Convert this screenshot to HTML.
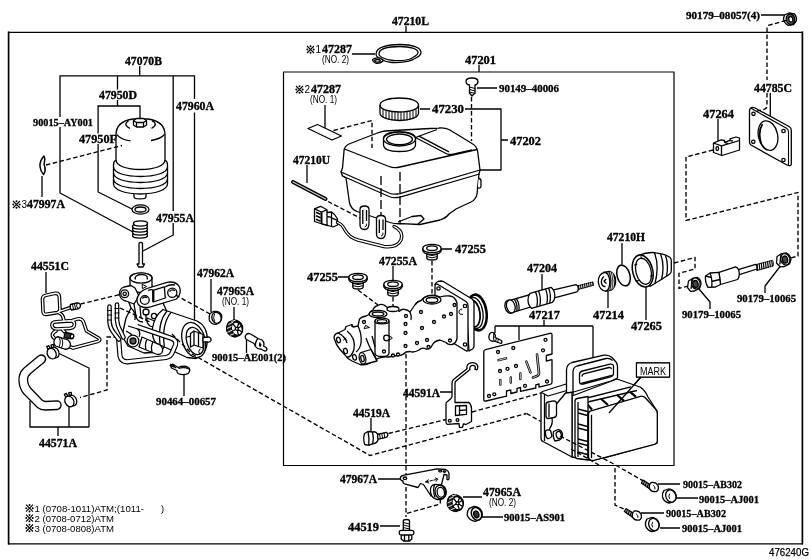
<!DOCTYPE html>
<html><head><meta charset="utf-8"><title>47210L brake master cylinder diagram</title>
<style>
html,body{margin:0;padding:0;background:#fff;}
body{width:811px;height:560px;overflow:hidden;font-family:"Liberation Sans",sans-serif;}
svg{display:block;filter:grayscale(1);}
text{fill:#000;}
.b{font-family:"Liberation Serif",serif;font-weight:bold;font-size:12.5px;stroke:#000;stroke-width:0.35px;}
.s{font-family:"Liberation Serif",serif;font-weight:bold;font-size:10.5px;stroke:#000;stroke-width:0.3px;}
.n{font-family:"Liberation Sans",sans-serif;font-size:10px;}
.l{fill:none;stroke:#000;stroke-width:1.3;stroke-linecap:butt;stroke-linejoin:round;}
.t{fill:none;stroke:#000;stroke-width:1.0;stroke-linejoin:round;stroke-linecap:round;}
.d{fill:none;stroke:#000;stroke-width:1.35;stroke-dasharray:4.5 2.5;}
.w{fill:#fff;stroke:#000;stroke-width:1.3;stroke-linejoin:round;}
.k{fill:#000;stroke:none;}
</style></head><body>
<svg width="811" height="560" viewBox="0 0 811 560">
<defs>
<symbol id="kome" overflow="visible"><path d="M1,1 L8,8 M8,1 L1,8" stroke="#000" stroke-width="1.1" fill="none"/><circle cx="4.5" cy="1.3" r="1"/><circle cx="4.5" cy="7.7" r="1"/><circle cx="1.3" cy="4.5" r="1"/><circle cx="7.7" cy="4.5" r="1"/></symbol>
</defs>
<rect x="0" y="0" width="811" height="560" fill="#fff"/>
<!-- 00_frames.svg -->
<g class="l">
<!-- outer frame -->
<path d="M8.6,32.45 H802.4 M8.6,543.75 H802.4" style="stroke-width:1.25;stroke-linecap:square"/><path d="M8.6,32.45 V543.75 M802.4,32.45 V543.75" style="stroke-width:1.7;stroke-linecap:square"/>
<!-- inner box -->
<rect x="283.5" y="72" width="390.5" height="393.5" style="stroke-width:1.2"/>
<!-- 47070B tree -->
<path d="M139.7,66 V75.8 M59.4,75.8 H195.1 M60,75.8 V117 M60,127 V193 L133,232 M117.5,75.8 V89.5 M173.2,75.8 V211 M173.2,223 V235 L143,251 M194.5,75.8 V99 M194.5,112.5 V321"/>
<path d="M117.5,100 V106 M97.5,106 H140.6 M98.1,106 V133.5 M98.1,144 V192 L132,209 M140,106 V118"/>
<!-- 47997A leader -->
<path d="M42,176 V197"/>
<!-- 44551C leader -->
<path d="M46,272 V293"/>
<!-- 47962A / 47965A / AE001 -->
<path d="M211,279 V312 M234,307 V321 M246.5,337.5 V353"/>
<!-- 90464 -->
<path d="M184,375 V396"/>
<!-- 44571A bracket -->
<path d="M58,353 L89,368 V427 M30,401 V427 H89 M69,406 V427 M58,427 V436"/>
<!-- top labels -->
<path d="M406,26 V32.5 M352,54 H375 M479,65 V72 M325,105 V128"/>
<path d="M420,109 H430 M465,109 H501 V170 H478 M501,140 H508 M477,88 H497"/>
<path d="M307,165 V183"/>
<path d="M441,249 H452 M393,266 V280 M338,277 H349"/>
<path d="M542,274 V292 M622,243 V265 M608,291 V308 M646,287 V320"/>
<path d="M544,320 V326 M495,326 H593 M495,326 V333 M519,326 V340 M593,326 V358"/>
<path d="M440,392 H455 M371,418 V431 M378,479 H401 M463,497 H482 M482,517 H503 M380,526 H400"/>
<path d="M718,119 V141 M770.3,93 V117 M761,15 H786"/>
<path d="M699,289 L710,302 V309 M782,264 L765,286 V293"/>
<path d="M658,484 H680 M676,498 H698 M641,513 H664 M660,528 H680"/>
<!-- MARK box -->
<rect x="636.5" y="363" width="33" height="14" fill="#fff"/>
<path d="M641,377 L609,413"/>
</g>

<!-- 10_accum.svg -->
<g class="w">
<!-- accumulator 47950D -->
<path d="M134,192 V197 C134,199.5 146,199.5 146,197 V192 Z"/>
<path d="M116,135 C116,126 122,120.5 133,119 H148 C159,120.5 165,126 165,135 V160 C167,161 167.5,163 167.5,165 V184 C167.5,190 155,194 140.5,194 C126,194 113.5,190 113.5,184 V165 C113.5,163 114,161 116,160 Z"/>
<path class="l" d="M116,160 C116,166 127,169.5 140.5,169.5 C154,169.5 165,166 165,160"/>
<path class="l" d="M113.5,167 C113.5,173 126,176.5 140.5,176.5 C155,176.5 167.5,173 167.5,167 M113.5,173 C113.5,179 126,182.5 140.5,182.5 C155,182.5 167.5,179 167.5,173 M113.5,179 C113.5,185 126,188.5 140.5,188.5 C155,188.5 167.5,185 167.5,179"/>
<path class="l" d="M128.5,121 C124.5,123 125,126.5 130,128.3 M152,120.8 C156.5,122.5 156.5,126 151.5,128.3 M117,134.5 C119,138 124,140 130.5,140.8 M151,140.5 C157.5,139.5 162,137.5 164.5,134.5"/>
<path d="M133.5,120.5 L136.5,118.5 H143.5 L146.5,120.5 V125 L143.5,127 H136.5 L133.5,125 Z"/>
<path class="l" d="M133.5,120.5 L136.5,122.5 H143.5 L146.5,120.5 M136.5,122.5 V127 M143.5,122.5 V127"/>
<!-- clip 47997A -->
<path d="M44,156 Q39.5,161 40,166.5 Q40.5,171.5 43.5,174.5 Q46,170.5 44.8,167 Q43.2,164.5 44.5,161.5 Q45.3,158.5 44,156 Z" style="stroke-width:1.5"/>
<!-- O-ring -->
<ellipse cx="140.5" cy="209.5" rx="8.5" ry="4.6"/>
<ellipse cx="140.5" cy="209.5" rx="5.5" ry="2.5"/>
<!-- spring -->
<ellipse cx="140" cy="235.5" rx="7.5" ry="2.6" style="stroke-width:1.4"/>
<ellipse cx="140" cy="232.5" rx="7.5" ry="2.6" style="stroke-width:1.4"/>
<ellipse cx="140" cy="229.5" rx="7.5" ry="2.6" style="stroke-width:1.4"/>
<ellipse cx="140" cy="226.5" rx="7.5" ry="2.6" style="stroke-width:1.4"/>
<ellipse cx="140.5" cy="223.5" rx="7" ry="2.6" style="stroke-width:1.4"/>
<!-- pin -->
<path d="M139,243.5 C139,242 142.5,242 142.5,243.5 V264 H144.5 L143,267 H138.5 L137,264 H139 Z"/>
</g>
<path class="d" d="M46,165 L122,145.5"/>

<!-- 20_tube_hose.svg -->
<g fill="none" stroke-linejoin="round" stroke-linecap="round">
<!-- tube 44551C: black pass then white core -->
<g stroke="#000" stroke-width="3.7">
<path id="tb1" d="M42.5,299.5 Q42.5,295.8 46,295.2 L55.5,293.3 Q59,293 59.3,296.5 L60,309 Q60,312 57,312.6 L46.5,314.3 Q43,314.6 43,311 Z"/>
<path id="tb2" d="M59.5,311.3 L70.5,307.6"/>
<path id="tb3" d="M59,312.8 Q62.5,314 63.5,318.5 L64,320.5"/>
<path id="tb4" d="M52,325.5 Q51.5,322.3 56,321.8 L70,320.8 Q74.5,320.8 74.5,324 Q74.5,327.8 70,328.3 L57,329 Q52.5,329 52,325.5 Z"/>
<path id="tb5" d="M56,331 Q51.5,333 52.5,336 Q53.5,338.5 57,339.5"/>
<path id="tb6" d="M62.5,329.5 L66.5,334"/>
<path id="tb7" d="M73,320.3 L78.5,318.8 Q82,318.5 83.5,322 L86.5,331 L98.5,338 Q101.5,340 97.5,341.5 L73,348 L69,346.3"/>
</g>
<g stroke="#fff" stroke-width="1.4">
<use href="#tb1"/><use href="#tb2"/><use href="#tb3"/><use href="#tb4"/><use href="#tb5"/><use href="#tb6"/><use href="#tb7"/>
</g>
</g>
<g class="w">
<!-- fitting 1 -->
<path d="M70.5,304.5 L77,302.8 Q80.5,303 80.5,305.5 Q80.5,308 77.8,308.8 L71.5,310 Q69.5,308 70.5,304.5 Z"/>
<path class="t" d="M72.5,304 L73.5,309.5 M74.5,303.5 L75.5,309.2 M77,303 Q75.5,306 77.8,308.8"/>
<!-- fitting 2 -->
<path d="M65,332.5 L71,333.5 Q74.5,335 73.5,337.5 Q72,339.5 69,338.5 L64,337.5 Z" style="fill:#333"/>
<ellipse cx="72" cy="336.3" rx="1.6" ry="2.2" transform="rotate(15 72 336.3)"/>
<!-- cylinder fitting -->
<path d="M58.5,336.8 L68,340 Q71.5,343 70,346.8 Q68,350 64.5,349 L55.5,346 Q53,343.5 54.5,339.5 Q56,336.5 58.5,336.8 Z"/>
<path class="t" d="M58.5,336.8 Q62,340.5 59,347 M61,337.8 Q64.5,341.5 61.5,348"/>
<!-- clip 1 -->
<ellipse cx="54.5" cy="352.59999999999997" rx="4.3" ry="5.6" transform="rotate(-28 54.5 352.59999999999997)"/>
<ellipse cx="51.699999999999996" cy="353.59999999999997" rx="4.3" ry="5.6" transform="rotate(-28 51.699999999999996 353.59999999999997)"/>
<path d="M47.8,349.0 L46.699999999999996,346.59999999999997 L48.699999999999996,345.59999999999997 L50.099999999999994,348.0 Z M51.5,347.4 L51.099999999999994,344.8 L53.5,344.5 L53.9,347.2 Z"/>
<!-- hose 44571A -->
<path d="M38.5,356 L23.5,368.5 Q18.5,373.5 19,381 Q19.5,389 24,394 L37.5,407.5 Q40.5,410 45,410 L57.5,409.5 Q61.5,408 61,404.5 Q60.5,401 57,400.8 L46,401.5 Q43.5,401.5 42,400 L30.5,388 Q27.5,384.5 27.5,380 Q27.5,376 30.5,373.5 L44.5,362 Q46.5,359.5 45,357 Q42.5,353.5 38.5,356 Z"/>
<!-- clip 2 -->
<ellipse cx="72.2" cy="400.4" rx="4.3" ry="5.6" transform="rotate(-28 72.2 400.4)"/>
<ellipse cx="69.4" cy="401.4" rx="4.3" ry="5.6" transform="rotate(-28 69.4 401.4)"/>
<path d="M65.5,396.8 L64.4,394.4 L66.4,393.4 L67.8,395.8 Z M69.2,395.2 L68.8,392.6 L71.2,392.3 L71.6,395 Z"/>
</g>
<path class="d" d="M80.5,304 L122,294"/>
<path class="d" d="M118,337 H107 V390 L80,397.5"/>

<!-- 30_pump.svg -->
<g class="w">
<!-- main body mass -->
<path d="M130,286 L152,286 L160,296 L167,312 L170,340 L160,352 L144,353 L128,346 L122,336 L126,318 L131,308 L128,300 Z"/>
<!-- top port -->
<path d="M130,278 C130,271.5 152,271.5 152,278 V287 C152,290.5 146,292.5 141,292.5 C136,292.5 130,290.5 130,287 Z"/>
<ellipse cx="141" cy="278" rx="11" ry="5.2"/>
<path class="l" d="M135.5,279.5 C134,276 138,274.5 141.5,274.5 C146,274.5 148.5,276.5 147,279.5"/>
<!-- left port -->
<path d="M131,285.5 L124,287 Q119,289 119.5,294.5 Q120.5,300 126,301 L134,304 L139,296 L135,288 Z"/>
<circle cx="124.7" cy="293.8" r="3.9"/><circle cx="124.7" cy="293.8" r="1.7"/>
<!-- small details on body -->
<path class="l" d="M134,304 L136,316 Q137,322 143,322 M140,307 L141,318 M146,309 V320 L152,323 M131,308 Q136,312 135,320"/>
<circle cx="146" cy="312" r="3"/><circle cx="154" cy="316" r="2.6"/>
<path d="M147,318 L160,323 Q164,326 162,330 L150,326 Q146,323 147,318 Z"/>
<!-- bracket plate -->
<path d="M139,294.5 Q142,290 147,288.5 L167,282.3 Q176,280.8 179.5,287 Q182,293.5 176.5,299 L150.5,306.8 Q142,308.8 138.3,304.5 Q135.3,299.5 139,294.5 Z"/>
<path d="M152.8,290.3 L164.3,286.8 L165.3,298 L153.3,302 Z"/>
<path class="l" d="M153.3,290.5 V302" style="stroke-width:2.2"/>
<path class="l" d="M148,290.5 Q151,289 153,290 M165,287 Q170,284 175,285"/>
<circle cx="144.8" cy="300" r="4.4"/><circle cx="172.3" cy="292.8" r="4.6"/>
<path class="l" d="M142.3,298.5 Q144.5,296 147.3,297.8 M169.5,291.5 Q172,288.8 175,290.8"/>
<path class="t" d="M142.5,284.5 L146.5,286.5 L142.8,288.5 Z"/>
<!-- motor -->
<path d="M163,309.5 L197,321 Q207.5,326 207.5,341 Q206.5,355 196,358.5 L187,357.5 L156,343 Q151.5,338 152.5,328 Q154.5,316 163,309.5 Z"/>
<path class="l" d="M167,311 Q157.5,322 160,344.5 M171,312.3 Q161.5,324 164.3,346.5"/>
<ellipse cx="193.7" cy="340" rx="11.3" ry="18" transform="rotate(-17 193.7 340)"/>
<ellipse cx="195" cy="341" rx="8.3" ry="14" transform="rotate(-17 195 341)"/>
<path d="M194,331 L203,334.5 V348 L194,345 Z"/>
<path class="l" d="M194,331 L190.5,333.5 V347 L194,345 M190.5,336 L186,337.5 M198.5,333 V346.5"/>
<path d="M203,337.5 L209,337 Q211.5,338 211,340.5 Q210,342.5 207.5,342 L203,341.8 Z"/>
<path class="t" d="M200,349 Q197.5,351.5 199.5,354"/>
<!-- lower port and cylinders -->
<path d="M142,337 L160,345 Q164,348.5 162,352.5 Q160,355.5 156,354 L139,347 Z"/>
<path class="l" d="M147,339.5 Q144.5,344 146,349.5 M153,342 Q150.5,346.5 152,352"/>
<circle cx="133" cy="341" r="5.8"/><circle cx="133" cy="341" r="3" style="fill:#555"/>
<path class="l" d="M126,331 Q130,333 132,335 M139,337 Q141,333 138,329 L128,326"/>
</g>
<!-- handle tube -->
<g fill="none" stroke-linejoin="round" stroke-linecap="butt">
<path id="hd1" d="M118.5,338 L120,356 Q121,361.5 127,361.8 L166,357.5 Q171,356.5 172.5,352 L175.5,345 Q176.8,340.5 172,338.5 L137,326.5" stroke="#000" stroke-width="5.2"/>
<path d="M118.5,337 L120,356 Q121,361.5 127,361.8 L166,357.5 Q171,356.5 172.5,352 L175.5,345 Q176.8,340.5 172,338.5 L136,326.2" stroke="#fff" stroke-width="2.9"/>
</g>
<!-- wires -->
<g fill="none" stroke-linecap="round" stroke-linejoin="round">
<path d="M109.5,306.5 L109.5,322 Q110,328 114,333 L119,339.5 M117,304.5 L117,320 Q117.5,326 120,330 L123.5,337.5" stroke="#000" stroke-width="4.6"/>
<path d="M109.5,306.5 L109.5,322 Q110,328 114,333 L119,339.5 M117,304.5 L117,320 Q117.5,326 120,330 L123.5,337.5" stroke="#fff" stroke-width="2.2"/>
<path class="t" d="M107.5,310.5 H111.5 M107.5,315 H111.5 M107.5,320 H111.5 M115,308.5 H119 M115,313 H119 M115,318 H119" style="stroke-width:1.1"/>
</g>
<!-- grommet 47962A -->
<g class="w">
<path d="M210,313.5 L213.5,311.5 Q219.5,310.5 221.5,315 Q222.5,320 219,323 L216,324.3 Q211,324.5 209.3,320 Q208.5,316 210,313.5 Z"/>
<ellipse cx="216.5" cy="317.8" rx="4.6" ry="5.6" transform="rotate(-15 216.5 317.8)"/>
<path class="t" d="M214.5,314 Q212.5,317.5 214.5,321.5"/>
<!-- bushing 47965A no1 -->
<path d="M229,322 L233.5,320 Q240,320.5 242.5,326 Q243.5,332 239.5,335.5 L235.5,337 Q229,336.5 226.8,331 Q226,325.5 229,322 Z" style="fill:#222"/>
<ellipse cx="236.8" cy="328.8" rx="5.3" ry="6.8" transform="rotate(-20 236.8 328.8)"/>
<path d="M228.3,324.5 L233,322.3 M226.9,328.5 L231.6,326.3 M227.3,332.3 L232,330.3 M229.8,335.3 L234,333.8 M231.3,321.3 L235.5,320.3" style="stroke:#fff;stroke-width:0.9;fill:none"/>
<path class="l" d="M236.8,328.8 L233,324 M236.8,328.8 L241.5,326 M236.8,328.8 L238.5,335 M236.8,328.8 L232,331.5 M236.8,328.8 L239,322.5 M236.8,328.8 L242,332"/>
<circle cx="236.8" cy="328.8" r="1.5"/>
<!-- bolt AE001 -->
<path d="M245.5,335.5 Q247.5,332.5 250.5,334 L258,338.5 L262,340 Q265,343 263.5,346 L266,347.5 Q267.5,349 266.5,350.5 Q265,351.5 263.5,350.5 L261,349 Q257.5,349.5 255.5,346.5 L254,343.5 L246.5,339.5 Q244.5,338 245.5,335.5 Z"/>
<path class="l" d="M258,338.5 Q255,341.5 255.5,346.5 M260,342.5 Q259,345 260.5,347"/>
<circle cx="260.3" cy="344.8" r="1.2" class="k"/>
<!-- clamp 90464 -->
<path d="M170.5,365.5 L173,364.2 L178,367.5 Q184,365 188.5,367.5 Q191,370 188.5,373.2 Q183.5,376 178,373.5 Q176.5,372 177,370.5 L171.5,368 Z"/>
<path class="l" d="M178.5,368.5 Q184,366.5 189,369 M172,365 L176,368"/>
<path d="M170,364.5 L174,366.8" style="stroke-width:2.4"/>
</g>
<path class="d" d="M175.5,295 L210,314"/>
<path class="d" d="M120,308 L150,322 M172,334 L192,354 M192,354 L370,455.5 L526.5,413.5"/>

<!-- 40_reservoir.svg -->
<g class="w">
<!-- ring 47287 no.2 -->
<path d="M376,54 C376,47 388,44.5 400,44.5 C412,44.5 421,47.5 421,52.5 C421,56 417,57.5 414,59 C410,61.5 400,63 392,62.5 C386,62 383,60.5 380.5,59 C377.5,57.5 376,56 376,54 Z"/>
<path d="M379,54 C379,48.5 389,46.5 400,46.5 C410,46.5 418,49 418,52.5 C418,55 414.5,56.5 412,58 C408.5,60 400,61 393,60.5 C387,60 384,58.5 382,57.5 C380,56.5 379,55.5 379,54 Z"/>
<path d="M372.5,59.5 Q376,57 380.5,58.3 L383.5,60.5 Q381,63.5 376.5,63.3 Q373,62.5 372.5,59.5 Z"/>
<ellipse cx="377.5" cy="60.8" rx="2.8" ry="1.3"/>
<!-- label strip 47287 no.1 -->
<path d="M308,128.5 L317.5,124.5 L341.5,136 L332,140 Z"/>
<!-- cap 47230 -->
<path d="M380,105 C380,100.5 389,98 399.5,98 C410,98 418.5,100.5 418.5,105 V113 C418.5,117.5 410,120.5 399.5,120.5 C389,120.5 380,117.5 380,113 Z"/>
<path class="l" d="M380,105 C380,109.5 389,112 399.5,112 C410,112 418.5,109.5 418.5,105"/>
<path class="t" d="M383,110 V117 M386,111 V118.3 M389,111.7 V119.3 M392,112.2 V119.9 M395,112.5 V120.2 M398,112.6 V120.4 M401,112.6 V120.4 M404,112.5 V120.2 M407,112.2 V119.9 M410,111.7 V119.3 M413,111 V118.3 M416,110 V117"/>
<!-- reservoir tank -->
<path d="M346,178 L349.5,203 Q351,209 357,211.5 L390,222.5 Q395,224 401,223.7 L420,224.5 L440,220 Q446,218 449,214 L456,209 L471,202 Q476,199.5 477,194 L479,174 L480,170 L479.5,166 L477.5,150.5 Q476.5,146 472,143.5 L449,129.5 Q445,127.5 439,128 L385,131 Q381,131.5 376,133.5 L349,144 Q344,146.5 344,151 L342.5,168 L341,172 L342.5,176 Z"/>
<!-- seam (flange) -->
<path class="l" d="M341,172 L389,193 Q394,195 400,193.7 L480,170 M342.5,176 L389,196.5 Q394,198.5 400,197.2 L479.5,174" style="stroke-width:1.2"/>
<!-- top front edge -->
<path class="l" d="M344.5,149 L389,166.5 Q394,168.5 400,167 L477,149.5"/>
<!-- top panel lines -->
<path class="l" d="M415.5,137.5 L446,153.5 Q448.5,155 452,154.3 L472,150 M418.5,135.8 L449,151.8 M415.5,137.5 L437,129.5"/>
<!-- filler neck -->
<path d="M383.5,139 C383.5,134.5 390,132 399.5,132 C409,132 415.5,134.5 415.5,139 V144.5 C415.5,149 409,151.5 399.5,151.5 C390,151.5 383.5,149 383.5,144.5 Z"/>
<ellipse cx="399.5" cy="139" rx="16" ry="7"/>
<ellipse cx="399.5" cy="139.3" rx="13" ry="5.3"/>
<!-- bottom details -->
<path class="l" d="M398,222 L412,216.5 L421,215.5 L424,219 L418,224"/>
<path d="M478.5,178.5 Q481,178.5 481,181 V186 Q481,188.5 478,188"/>
<!-- tabs -->
<path d="M360,209.5 Q360,206 364.5,206 Q369,206 369,209.5 V222 Q369.5,229.5 364.5,229.5 Q360,229.5 360,225 Z"/>
<path d="M376.5,219 Q376.5,215.5 381,215.5 Q385.5,215.5 385.5,219 V231 Q386,238.5 381,238.5 Q376.5,238.5 376.5,234 Z"/>
<path class="l" d="M362.8,210 V224 M366.5,210 V221 M379.3,219.5 V233 M383,219.5 V230"/>
<path class="t" d="M366.5,224 Q367,226.5 365,227 M383,233 Q383.5,235.5 381.5,236"/>
<!-- rod 47210U -->
<path d="M293,182 L325.5,199" style="stroke-width:4;stroke-linecap:round;fill:none"/><path d="M293,182 L325.5,199" style="stroke-width:1.2;stroke:#ccc;stroke-linecap:round;fill:none"/>
<!-- connector -->
<path d="M314.5,208.8 L320.5,206.3 L327,209.8 L327,212.5 L331.5,212 L334.5,214.5 L337.5,219 L337.5,225 L333,227 L328,225.5 L322,224 L314.5,221.5 Z"/>
<path class="l" d="M314.5,208.8 L321.5,212 L327,209.8 M327,212.5 V225 M331.5,212 V226.5 M327,216.5 L331.5,217.3 M331.5,217.8 L337.5,220.3"/>
<path class="l" d="M321.5,212 V223.8" style="stroke-width:2"/>
<path class="l" d="M316,212.3 L320.5,214.2 M316,215.8 L320.5,217.7 M316,219.3 L320.5,221.2" style="stroke-width:1.5"/>
<!-- screw 90149-40006 -->
<path d="M466,81.5 Q466,78 472,78 Q478,78 478,81.5 Q478,84.5 475,85 V93 L472,96 L469.5,93 V85 Q466,84.5 466,81.5 Z"/>
<path class="t" d="M469.5,87 L475,88.5 M469.5,89.5 L475,91 M469.5,92 L475,93.5"/>
</g>
<!-- sensor wire -->
<g fill="none" stroke-linecap="round" stroke-linejoin="round">
<path d="M337.5,222.5 Q342,224 345,230 Q349,237.5 358,240 L384,246.5 Q397,248 401,240 Q404,231 394,226.5" stroke="#000" stroke-width="3.4"/>
<path d="M337.5,222.5 Q342,224 345,230 Q349,237.5 358,240 L384,246.5 Q397,248 401,240 Q404,231 394,226.5" stroke="#fff" stroke-width="1.3"/>
</g>
<path class="d" d="M333.5,130.5 L372,120.5 V148"/>
<path class="d" d="M381,176 V216 M400,172 V224" style="stroke-dasharray:9 3"/>
<path class="d" d="M471.5,97 V141"/>
<path class="d" d="M328,201.5 L360,218"/>

<!-- 45_grommets.svg -->
<g class="w">
<path d="M426.8,250.5 V258.0 Q426.8,260.0 432,260.0 Q437.2,260.0 437.2,258.0 V250.5 Z"/>
<path class="t" d="M426.8,254.5 Q432,256.8 437.2,254.5 M426.8,256.7 Q432,259.0 437.2,256.7"/>
<path d="M422.8,248.5 C422.8,242.9 441.2,242.9 441.2,248.5 V250.3 C441.2,255.7 422.8,255.7 422.8,250.3 Z"/>
<path class="l" d="M422.8,248.5 C422.8,253.9 441.2,253.9 441.2,248.5"/>
<ellipse cx="432" cy="248.2" rx="5.3" ry="2.3"/>
<path d="M387.8,286.5 V294.0 Q387.8,296.0 393,296.0 Q398.2,296.0 398.2,294.0 V286.5 Z"/>
<path class="t" d="M387.8,290.5 Q393,292.8 398.2,290.5 M387.8,292.7 Q393,295.0 398.2,292.7"/>
<path d="M383.8,284.5 C383.8,278.9 402.2,278.9 402.2,284.5 V286.3 C402.2,291.7 383.8,291.7 383.8,286.3 Z"/>
<path class="l" d="M383.8,284.5 C383.8,289.9 402.2,289.9 402.2,284.5"/>
<ellipse cx="393" cy="284.2" rx="5.3" ry="2.3"/>
<path d="M352.8,279.5 V287.0 Q352.8,289.0 358,289.0 Q363.2,289.0 363.2,287.0 V279.5 Z"/>
<path class="t" d="M352.8,283.5 Q358,285.8 363.2,283.5 M352.8,285.7 Q358,288.0 363.2,285.7"/>
<path d="M348.8,277.5 C348.8,271.9 367.2,271.9 367.2,277.5 V279.3 C367.2,284.7 348.8,284.7 348.8,279.3 Z"/>
<path class="l" d="M348.8,277.5 C348.8,282.9 367.2,282.9 367.2,277.5"/>
<ellipse cx="358" cy="277.2" rx="5.3" ry="2.3"/>
</g>
<path class="d" d="M358,290 L378,305 M393,297 V309 M432,261 V296"/>

<!-- 50_master.svg -->
<g class="w">
<!-- boot disc behind flange -->
<ellipse cx="477" cy="312.5" rx="9.5" ry="18" transform="rotate(-8 477 312.5)" style="stroke-width:2.6"/>
<ellipse cx="475" cy="313" rx="8" ry="15.5" transform="rotate(-8 475 313)"/>
<ellipse cx="473" cy="313.5" rx="7" ry="13.5" transform="rotate(-8 473 313.5)" style="stroke-width:1.8"/>
<!-- flange plate -->
<path d="M435,284.5 Q435.5,282.5 438,281.5 L441,281 Q443,281 445,282.5 L472,299 Q474,300.5 474,303 V346 Q474,348 472.5,349 L469,351 L466,303 Z"/>
<path d="M435,286 Q435,283 438,284.5 L466,301.5 Q468,303 468,305.5 V349 Q468,352 465.5,350.5 L437,333 Q435,331.5 435,329 Z"/>
<circle cx="438.5" cy="288.5" r="1.7"/><circle cx="465" cy="306" r="1.7"/><circle cx="465" cy="344.5" r="1.7"/><circle cx="439" cy="329" r="1.7"/>
<path class="t" d="M462,309 Q458.5,309.5 459,312.5 Q459.5,315 462.5,314.5"/>
<!-- whole body -->
<path d="M334,338 Q334,334 338,333 L345,329.5 L346,326.5 L352,324.5 L353,327 L358,326 L359.5,319 Q362,316.5 366,316 L369,314.5 Q370,311 373,310 Q374,306.5 378,305.5 Q381,303.5 384,305 Q386,306.5 388,308 Q392,305 397,307.5 L399,311.5 Q402,308.5 405,309.5 Q408,310 410,312 L414.5,305.5 Q417,301.5 421,300.5 L424,297.5 Q432,293 440,297 Q445,295.5 450,296 Q455,296.5 457,303 L457,338.5 Q456,343.5 452,344.5 Q448,345 446,342.5 L440,340 Q434,341 432,345.5 Q430,350 426,349 Q422,347 419,350 Q414,353 410,351.5 L406,352 Q402,356 398,355.5 L388,357 Q382,356.5 378,358.5 L372,362 Q366,366 360,364.5 L352,361 Q347,358.5 345,355 L340,349.5 Q336,345 334,338 Z"/>
<path class="l" d="M410,312 Q412,316 411,320"/>
<!-- top port right -->
<ellipse cx="432" cy="299.8" rx="9" ry="4.2"/><ellipse cx="432" cy="300" rx="5.8" ry="2.5"/>
<!-- ports left -->
<ellipse cx="378" cy="314" rx="9" ry="3.7"/><ellipse cx="378" cy="314" rx="5.8" ry="2"/>
<ellipse cx="393" cy="309" rx="6" ry="2.5"/>
<!-- vertical tube -->
<path d="M375,321 V353 Q375,356.5 382,356.5 Q389,356.5 389,353 V321 Z"/>
<ellipse cx="382" cy="321" rx="7" ry="2.9"/><ellipse cx="382" cy="321.3" rx="4.8" ry="1.7"/>
<circle cx="386.5" cy="338" r="2.8"/>
<path class="t" d="M389,336 L392,337.5 M389,340 L392,338.5"/>
<!-- left end flange -->
<path class="l" d="M347,331 Q356,338 354,349 Q352,357 346.5,357.5 M338,333 Q345,336 347,343 M352,324.5 V327 M358,326 Q362,334 361,343 Q360,349 356,352"/>
<ellipse cx="338.5" cy="340" rx="1.9" ry="2.8" transform="rotate(-15 338.5 340)"/>
<ellipse cx="345.5" cy="351" rx="1.9" ry="2.8" transform="rotate(-15 345.5 351)"/>
<ellipse cx="354.5" cy="357.3" rx="1.9" ry="2.8" transform="rotate(-15 354.5 357.3)"/>
<path class="t" d="M344,337.5 L346.5,340 M343.5,340 L346,338"/>
<!-- lower cylinder -->
<path d="M361,352.5 L371,349.5 L375,356 L377,361 L364,364.3 Z"/>
<ellipse cx="362.5" cy="358.3" rx="3.2" ry="5.8" transform="rotate(-12 362.5 358.3)"/>
<ellipse cx="362.5" cy="358.5" rx="1.6" ry="3.2" transform="rotate(-12 362.5 358.5)"/>
<path class="l" d="M366,338 Q369,346 371,349.5 M371,349.5 Q373,354 377,361 M372,336 Q374,343 375,347"/>
<path class="t" d="M366,325.5 L369.5,327.5 L364.5,328.5 Z"/>
<circle cx="406" cy="316" r="1.5"/><circle cx="405.5" cy="324" r="1.5"/><circle cx="405.5" cy="333" r="1.5"/><circle cx="405.5" cy="346" r="1.5"/><circle cx="393" cy="355.5" r="1.5"/><circle cx="398" cy="354.5" r="1.5"/><circle cx="421" cy="312" r="1.5"/><circle cx="422" cy="328" r="1.5"/><circle cx="417" cy="343" r="1.5"/><circle cx="427" cy="340" r="1.5"/><circle cx="428.5" cy="347" r="1.5"/><circle cx="434" cy="322" r="1.5"/><circle cx="444" cy="316.5" r="1.5"/><circle cx="451" cy="314" r="1.5"/><circle cx="450" cy="340.5" r="1.5"/><circle cx="454.5" cy="305" r="1.5"/><circle cx="364" cy="322" r="1.5"/><circle cx="384" cy="351.5" r="1.5"/>
<!-- screw 47217 -->
<path d="M489.5,334 Q491.5,331.5 494,333 Q496,335 495,337.5 L501.5,340.5 Q502.5,342.5 501,343.5 L494,341 Q491,342 489.5,339.5 Q488.3,336.5 489.5,334 Z"/>
<path class="t" d="M496.5,338 L495.5,341.5 M498.5,339 L497.5,342.5 M494,333 Q492.5,337 494,341"/>
</g>
<path class="d" d="M406,354 V517"/>

<!-- 60_rod_boot.svg -->
<g class="w">
<!-- piston rod 47204 -->
<path d="M577,286 L592.5,282 Q593.8,283.3 593.2,285.3 L577.8,289.5 Z" style="stroke-width:0.8"/><path d="M578.5,285.1 L579.1,289.8 M580.5,284.6 L581.1,289.3 M582.5,284.1 L583.1,288.7 M584.5,283.6 L585.1,288.2 M586.5,283.0 L587.1,287.6 M588.5,282.5 L589.1,287.1 M590.5,282.0 L591.1,286.5 M592.5,281.5 L593.1,286.0 " style="fill:none;stroke:#000;stroke-width:1.1"/>
<path d="M551.5,290.3 L576,284.6 Q578,285.3 578.3,288 Q578.5,290.8 577,291.8 L552.5,298.3 Z"/>
<path d="M510,300.3 L530.5,294.5 L531,306.8 L511,313 Z"/>
<ellipse cx="509.3" cy="306.8" rx="4.2" ry="6.6" transform="rotate(-14 509.3 306.8)"/>
<ellipse cx="510.8" cy="306.4" rx="4.2" ry="6.6" transform="rotate(-14 510.8 306.4)"/>
<path class="l" d="M514.5,299.3 Q518,305 516.8,311.5 M516.5,298.7 Q520,304.5 518.8,311"/>
<path d="M530,293.3 L551,287.3 Q554.5,290 554.8,295 Q555,300 552.3,302.3 L531.5,308.3 Q528,305 528,300 Q528,296 530,293.3 Z"/>
<path class="l" d="M535.5,291.8 Q538.5,299 536.8,306.7 M538.5,291 Q541.5,298 539.8,305.9 M545.5,289 Q548.5,296 546.8,303.9 M548.5,288.1 Q551.5,295 549.8,303" style="stroke-width:1.3"/>
<!-- nut 47214 -->
<path d="M603.5,272.5 L609.5,271.3 Q615,273 615.6,280 Q616,287 611.5,290 L606,291.2 Z" style="fill:#222"/>
<path class="t" d="M608,272.5 Q611,280 608.8,290 M610.3,272.2 Q613.3,280 611,289.8 M612.5,273 Q615,280 613,288.5" style="stroke:#fff;stroke-width:0.8"/>
<path d="M604.5,272.3 Q609.3,273.3 609.8,281.5 Q609.8,289.8 605.8,291.2 Q599.3,290.5 598.3,282 Q598,274 604.5,272.3 Z"/>
<path class="l" d="M604,276.5 Q600.8,279.3 601.5,283.3 Q602.5,287 605.5,286.5 M606.3,279 L604,281.3 L606.5,283.5"/>
<!-- O-ring 47210H -->
<ellipse cx="623.5" cy="275.5" rx="6.4" ry="10.6" transform="rotate(-16 623.5 275.5)" style="stroke-width:1.5;fill:none"/>
<!-- boot 47265 -->
<path d="M638,255.5 Q648,251.5 656,252.8 Q665,254 669.5,257 Q671.3,258.3 671.3,260.5 L671.3,270.5 Q671.3,273 669.5,274.3 Q660,280.5 650,286.5 Z"/>
<path class="l" d="M654.5,252.8 Q659.5,266 655,283.5 M660.5,253.8 Q665,265 661.5,280 M665.5,255.3 Q668.8,265 666.5,276.3"/>
<ellipse cx="642.7" cy="271" rx="10" ry="16.3" transform="rotate(-14 642.7 271)" style="stroke-width:1.5"/>
<ellipse cx="643.5" cy="271.3" rx="7.6" ry="13.3" transform="rotate(-14 643.5 271.3)"/>
<path class="t" d="M634.5,265 L637,264.3 M636,281 L638.8,280.5 M650.5,276 L653,275.3 M641,256.5 L641.5,258.8"/>
</g>

<!-- 70_right.svg -->
<g class="w">
<!-- nut 90179-08057 -->
<path d="M784.5,15 L789,13 L794.5,14 Q797,17 796.3,21 L793.5,24.5 L788,25.3 Q784,23 783.5,18.5 Z"/>
<ellipse cx="790.5" cy="19.3" rx="4.3" ry="5.3" transform="rotate(-15 790.5 19.3)" style="fill:#555"/>
<ellipse cx="790.8" cy="19.3" rx="2" ry="2.8" transform="rotate(-15 790.8 19.3)"/>
<!-- gasket 44785C -->
<path d="M749.5,111 Q749.5,107.5 753,107.3 L755,108 L789.5,126.8 Q791.3,128 791.3,130.5 V163.5 Q791.3,166.3 788.8,165.5 L786.5,164.8 L751,145 Q749.5,144 749.5,142 Z"/>
<path class="l" d="M751,108.3 L786.5,128.3 Q788.5,129.5 788.5,132 V165" style="stroke-width:1.1"/>
<ellipse cx="768" cy="135.6" rx="9.6" ry="15" transform="rotate(-12 768 135.6)"/>
<path class="l" d="M762.5,124 Q757.5,132 761.3,143.5 Q763.5,148.5 767.5,150" style="stroke-width:1.7"/>
<circle cx="753.5" cy="113.8" r="1.7"/><circle cx="783.5" cy="131" r="1.7"/><circle cx="753.3" cy="141.8" r="1.7"/><circle cx="783.5" cy="160" r="1.7"/>
<!-- block 47264 -->
<path d="M713.5,143 L721,139.8 L724.5,140.5 V142.3 L730,140.3 V138.8 L736,137 L739.5,138 V150 L722,155.5 L713.5,152.5 Z"/>
<path class="l" d="M713.5,143 L721.5,145.8 L739.5,140.5 M721.5,145.8 V155.3 M724.5,142.3 L728,143.6 M730,140.3 L733,141.2"/>
<ellipse cx="717.3" cy="148.5" rx="1.3" ry="2"/>
<!-- nut left 90179-10065 -->
<path d="M688.5,281 L692.5,278.5 L697.5,277.5 Q701,279.5 701,284 L699.5,288.5 L694.5,291 L690.5,291.3 L687.5,287.5 Z"/>
<ellipse cx="695.8" cy="283.5" rx="4.3" ry="5.6" transform="rotate(-15 695.8 283.5)"/>
<ellipse cx="695.5" cy="284" rx="2.6" ry="3.6" transform="rotate(-15 695.5 284)" style="fill:#444"/>
<path class="l" d="M692.5,278.5 L691,288.8"/>
<!-- clevis rod -->
<path d="M755.5,264.8 L772.5,260.3 Q774.3,262.5 773.3,265.8 L756.5,270.5 Z" style="stroke-width:0.8"/><path d="M757.0,263.9 L757.8,270.8 M759.1,263.3 L759.9,270.2 M761.2,262.8 L762.0,269.6 M763.3,262.2 L764.1,269.1 M765.4,261.7 L766.2,268.5 M767.5,261.1 L768.3,267.9 M769.6,260.6 L770.4,267.3 M771.7,260.0 L772.5,266.7 " style="fill:none;stroke:#000;stroke-width:1.2"/>
<path d="M737.5,269.8 L755.5,264.3 Q757.5,266 757,269 L738.5,274.8 Z"/>
<path d="M719,272.3 L735.5,266.8 Q738.8,267.8 739.3,273 Q739.5,277.5 737.5,279.5 L720.5,284.5 Z"/>
<path d="M705.5,276 L710,273 L719,272.3 L720.5,284.5 L715.5,287 L708,287.3 Q704.8,282 705.5,276 Z"/>
<path class="l" d="M710,273 Q712.5,279 711.8,287 M705.5,276 L711,277.5 M711.5,281.5 L720,279.5"/>
<!-- nut right -->
<path d="M777,256.5 L781,254 L786.5,253 Q790.5,255 791,259.5 L789.5,264 L784.5,266.5 L780,266.8 L776.5,263 Z"/>
<ellipse cx="785.3" cy="259.3" rx="4.5" ry="5.8" transform="rotate(-15 785.3 259.3)"/>
<ellipse cx="785" cy="259.6" rx="2.6" ry="3.6" transform="rotate(-15 785 259.6)" style="fill:#444"/>
<path class="l" d="M781,254 L779.8,264.5"/>
</g>
<path class="d" d="M786,20.5 L768,25.5 Q767,26 767,27.5 V80 M767,93 V106 Q767,108.5 764,109.3 L757,111"/>
<path class="d" d="M713,150 L686,157 V220.5 L798,192.5 V256 L791,258"/>
<path class="d" d="M674,263 L695,257.5 V269 L679,273.3 V288.3 L687,286.3"/>

<!-- 80_plate_bracket.svg -->
<g class="w">
<!-- gasket plate 47217 -->
<path d="M483.8,351.5 Q483.8,350 485.5,349.6 L550,333.3 Q552,333 552,335 V354 L546.3,355.5 V361 L552,359.6 V382.3 Q552,384 550.3,384.3 L539,387.2 V384 L535.8,384.8 V388 L520.5,391.3 V387.5 L517,388.3 V392 L510.8,393.5 V390 L506.5,391 V396.2 L486,401 Q483.8,401.5 483.8,399.5 Z"/>
<g class="l" style="stroke-width:1.2;stroke-linecap:round">
<path d="M498.5,360.2 L506,358.3 M500.3,380 V384.5 M510.8,377.5 V382.5 M520.3,373.5 V379 M526.3,361.5 L530.5,372.5" style="stroke-width:2.4"/>
<path d="M498.5,360.2 L506,358.3 M500.3,380 V384.5 M510.8,377.5 V382.5 M520.3,373.5 V379 M526.3,361.5 L530.5,372.5" style="stroke-width:0.8;stroke:#fff"/>
<path d="M537,354.5 L539,373 Q539,375.5 536.5,376.3 L533,377.5" style="stroke-width:2.6"/>
<path d="M537,354.5 L539,373 Q539,375.5 536.5,376.3 L533,377.5" style="stroke-width:0.8;stroke:#fff"/>
</g>
<circle cx="498" cy="352" r="1.5"/><circle cx="513.3" cy="348" r="1.5"/><circle cx="500" cy="371" r="1.5"/><circle cx="507.5" cy="368.8" r="1.5"/><circle cx="516" cy="366" r="1.5"/>
<circle cx="525" cy="385.8" r="1.5"/><circle cx="489" cy="396" r="1.5"/><circle cx="494.3" cy="394.3" r="1.5"/><circle cx="543" cy="350.3" r="1.5"/><circle cx="545.5" cy="339.8" r="1.5"/><circle cx="547" cy="381.5" r="1.5"/>
<!-- bracket 44591A -->
<path d="M446,404 Q446,402.3 447.5,401.5 L451,398.5 Q452,397.5 452,396 V383 Q452,380.8 453.5,379.5 L467,368.8 Q466.3,365 469.5,363.3 Q473.3,361.8 476.5,364 Q478.8,366.5 477,369.8 L475,369.3 Q476,366.8 474.5,365.8 Q472,364.8 470.3,366.5 Q469.3,368 470,369.5 L456,381 Q455,382 455,383.5 V402.5 L468.5,402.3 Q471.5,404.5 471.5,408.5 V421.5 L466,424.5 L463.5,423.8 L462.5,427.3 L459.5,427.5 L459,423.5 L447.5,424.3 Q446,424 446,422 Z"/>
<path d="M455.5,406 L466.5,405.5 V414.3 L455.5,415.5 Z"/>
<path class="l" d="M459.5,406 V415 M459.5,410.5 L466.5,409.8"/>
<circle cx="449.8" cy="420.8" r="1.4"/><circle cx="457.5" cy="420" r="1.4"/>
<!-- bolt 44519A -->
<path d="M377,434.5 L386.5,432.3 Q388,433.5 387.8,435.5 Q387.3,437 386,437.3 L377.5,439.3 Z"/>
<path class="t" d="M379.5,434 L380.3,438.5 M381.8,433.5 L382.6,438 M384,433 L384.8,437.5"/>
<path d="M372.5,432 Q376,431 377.5,434 L378,440 Q377,443 374,443.5 L371.5,444 Q371,439 372.5,432 Z"/>
<path d="M364.5,433.5 L368,431.5 L372.5,432 Q374,437.5 372.8,443.5 L368.8,445.3 L364.8,444.5 Q362.8,439.5 364.5,433.5 Z"/>
<path class="l" d="M368,431.5 Q369.5,438 368.8,445.3"/>
</g>
<path class="d" d="M388.5,433.5 L446,419.5 M472,412 L541,393"/>
<path class="d" d="M526.5,413.5 L541,421.5"/>

<!-- 85_ecu.svg -->
<g class="w">
<!-- main body behind -->
<path d="M572,396 L617,379 L640,387 Q645,390 648,397 L657,411 V443 L605,457.5 L590,460 L572,457 Z"/>
<!-- top slots -->
<path class="l" d="M575,401 L631,386.8 M577,404.5 L637,390.5"/>
<path class="l" d="M585.5,402.5 L592,409.5 M601,398.8 L608,405 M617,395 L624,400.8 M630,391.8 L636,396.8" style="stroke-width:2.2"/>
<!-- left box -->
<path d="M541,393.5 Q541,392 542.5,391.5 L566,384 L572,388 V457 L543,441.5 Q541,440.5 541,438.5 Z"/>
<path class="l" d="M544.5,394 V441 M541.5,392.5 L548,396 L572,389"/>
<!-- tall bracket -->
<path d="M566.5,393 V370 Q566.5,364.5 572,362.5 L604,355.2 Q608.5,354.5 612,357.5 L616,362 Q617.5,364 617.5,366.5 V378 L611,381 L573.5,392 Z"/>
<path class="l" d="M573,395 V372 Q573,367.5 577,366 L606,358.5 Q610,358 612.5,360.5"/>
<!-- connector socket -->
<path d="M579.5,374.5 Q579.5,371.8 582.5,371 L610,364.2 Q613.5,363.8 613.5,366.5 V373.5 Q613.5,376 610.5,376.8 L583,384 Q579.5,384.5 579.5,381.5 Z"/>
<path class="l" d="M582,376.5 Q582,374.3 584.5,373.6 L609,367.5 Q611.3,367.3 611.3,369.3 M581,383.3 L612,375.3"/>
<!-- ribbed strip -->
<path d="M575,401 Q575,399 577,398.5 L588,396.5 V460 L577,458.5 Q575,458 575,456 Z"/>
<path class="l" d="M578,402 V457 M588,411 V458"/>
<path class="l" d="M578,409 L587.5,411.5 M578,413 L587.5,415.5 M578,424 L587.5,426.5 M578,428 L587.5,430.5 M578,439 L587.5,441.5 M578,443 L587.5,445.5 M578,452 L587.5,454.5" style="stroke-width:1.3"/>
<!-- front panel -->
<path d="M588.5,414 Q588.5,411.5 591,410.8 L640.5,396.3 Q643.5,395.8 645.5,398 L655.5,409 Q657.3,411 657.3,413.5 V441 Q657.3,443.5 654.5,444.3 L594,460.3 Q588.5,461 588.5,456.5 Z"/>
<path class="l" d="M591.5,414.8 V458"/>
<!-- lever + bolts on left box -->
<path d="M546,404.5 Q546,402.5 548,402 L553.5,400.8 Q556.5,400.8 556.5,403.5 V414.5 Q556.5,417 554,417.5 L548.5,418.5 Q546,418.5 546,416 Z"/>
<path class="l" d="M549,403.5 V417 M556.5,404 L566,392.5 M552,418 Q553,424 550,428 Q548,431 549,436"/>
<path d="M545.5,431 Q548,429 550.5,430.5 L552,436 Q550.5,439 547.5,438.5 Q545,436.5 545.5,431 Z"/>
<path d="M553.5,431.5 L558,429.5 Q562,430.5 562.5,434.5 Q562.5,438.5 559.5,440 L555,441 Q552.5,437 553.5,431.5 Z"/>
<ellipse cx="558.8" cy="435" rx="2.6" ry="3.6" transform="rotate(-15 558.8 435)"/>
</g>
<!-- MARK box on top -->
<rect x="636.5" y="363" width="33" height="14" fill="#fff" stroke="#000" stroke-width="1.1"/>
<path class="l" d="M641,377 L609,413"/>
<path class="d" d="M560,436 L611,462.5 L646,482.5 M571,449 L599,465 M615,468 V505 L628,511"/>
<g class="w">
<!-- screws AB302 -->
<path d="M643,480 L651.5,485.5 L649.5,488.8 L641.3,483 Z" style="fill:#999;stroke-width:1.1"/><path class="t" d="M644.5,481 L643.3,484.3 M646.5,482.3 L645.2,485.6 M648.5,483.6 L647.2,487 M650.3,484.8 L649,488.2"/>
<path d="M651.3,482.5 Q655.8,481.8 658,485.5 Q659.5,489.8 656.3,491.6 Q651.8,492.2 649.6,488.8 Q648.5,484.8 651.3,482.5 Z"/>
<path class="t" d="M653.5,485.5 Q655.5,486.5 655,489"/>
<path d="M626,508.5 L634.5,514 L632.5,517.3 L624.3,511.5 Z" style="fill:#999;stroke-width:1.1"/><path class="t" d="M627.5,509.5 L626.3,512.8 M629.5,510.8 L628.2,514.1 M631.5,512.1 L630.2,515.5 M633.3,513.3 L632,516.7"/>
<path d="M634.3,511 Q638.8,510.3 641,514 Q642.5,518.3 639.3,520.1 Q634.8,520.7 632.6,517.3 Q631.5,513.3 634.3,511 Z"/>
<path class="t" d="M636.5,514 Q638.5,515 638,517.5"/>
<!-- collars AJ001 -->
<path d="M664,490.5 L668.5,489 Q674,489.5 676,494.5 Q677,499.5 673.5,501.8 L669,503 Q664,502 662.5,497 Q662,493 664,490.5 Z"/>
<ellipse cx="670.8" cy="496" rx="5" ry="6.3" transform="rotate(-20 670.8 496)"/>
<path class="t" d="M669.5,494 Q668,496 669.5,498.5"/>
<path d="M647,519 L651.5,517.5 Q657,518 659,523 Q660,528 656.5,530.3 L652,531.5 Q647,530.5 645.5,525.5 Q645,521.5 647,519 Z"/>
<ellipse cx="653.8" cy="524.5" rx="5" ry="6.3" transform="rotate(-20 653.8 524.5)"/>
<path class="t" d="M652.5,522.5 Q651,524.5 652.5,527"/>
</g>

<!-- 90_bottom.svg -->
<g class="w">
<!-- bracket 47967A -->
<path d="M400.3,478.5 Q400.3,476 403,475.3 L437,468.8 L445.5,469.5 Q448.5,470.5 449,473.5 V478.5 Q448.5,480.3 447,479.5 V475 L444,474.5 L441.5,484.5 L431,496 L423.5,484.5 L420.5,483.5 L418,487.5 L404.5,483.8 Q402.5,483 403,481 Q400.5,480.5 400.3,478.5 Z"/>
<ellipse cx="405" cy="478.2" rx="1.8" ry="1.2"/><ellipse cx="440.3" cy="471" rx="1.6" ry="0.9"/><ellipse cx="444.5" cy="471.6" rx="1.2" ry="0.8"/>
<path class="t" d="M426,481.8 L437.5,479.3" style="stroke-dasharray:2.5 1.5"/>
<path class="t" d="M428.3,479.8 L425.5,481.9 L428.8,483 M435.5,478 L438,479.2 L436,481.3"/>
<!-- elbow -->
<path d="M430.5,489 Q431,485 435,484.3 L441,484.8 Q446,486.5 446.3,492 Q446,497.5 441.5,499.3 L437.5,499.5 Q433,498.5 431.5,495.5 Q430,492.5 430.5,489 Z"/>
<ellipse cx="440.3" cy="492" rx="5.3" ry="6.8" transform="rotate(-12 440.3 492)"/>
<ellipse cx="440.8" cy="492.3" rx="3.6" ry="5" transform="rotate(-12 440.8 492.3)"/>
<path class="l" d="M434.5,484.8 Q432.5,490 435,497.5"/>
<!-- bushing 47965A no2 -->
<path d="M449.5,496.5 L454,494.3 Q460.5,495 463,500.5 Q464.3,506.5 460.3,510 L456.3,511.5 Q449.8,511 447.5,505.5 Q446.5,500 449.5,496.5 Z" style="fill:#222"/>
<ellipse cx="457.5" cy="503.3" rx="5.3" ry="6.8" transform="rotate(-20 457.5 503.3)"/>
<path d="M449,499 L453.7,496.8 M447.6,503 L452.3,500.8 M448,506.8 L452.7,504.8 M450.5,509.8 L454.7,508.3 M452,495.8 L456.2,494.8" style="stroke:#fff;stroke-width:0.9;fill:none"/>
<path class="l" d="M457.5,503.3 L453.7,498.5 M457.5,503.3 L462.2,500.5 M457.5,503.3 L459.2,509.5 M457.5,503.3 L452.7,506 M457.5,503.3 L459.7,497 M457.5,503.3 L462.7,506.5"/>
<circle cx="457.5" cy="503.3" r="1.5"/>
<!-- spacer AS901 -->
<path d="M469.5,508.3 L474,506.3 Q480,506.8 482,512 Q483,517.5 479.5,520 L475,521.3 Q469.5,520.5 467.3,515.5 Q466.8,511 469.5,508.3 Z"/>
<ellipse cx="476.5" cy="513.8" rx="5" ry="6.5" transform="rotate(-20 476.5 513.8)" style="stroke-width:1.5"/>
<ellipse cx="476.3" cy="514.3" rx="2.5" ry="3.5" transform="rotate(-20 476.3 514.3)" style="fill:#333"/>
<!-- bolt 44519 -->
<path d="M403.3,521 Q403.3,519.5 406.3,519.5 Q409.5,519.5 409.5,521 V531 H403.3 Z"/>
<path class="t" d="M403.3,522.5 L409.5,524 M403.3,525 L409.5,526.5 M403.3,527.5 L409.5,529"/>
<path d="M399.3,532 Q399.3,530.3 401.5,530.3 H411.5 Q413.8,530.3 413.8,532 V533.5 Q413.8,535 411.8,535 V539 L409.5,541 H403.5 L401.2,539 V535 Q399.3,535 399.3,533.5 Z"/>
<path class="l" d="M401.2,535 H411.8 M404.5,535 V541 M408.8,535 V541"/>
</g>
<path class="d" d="M407,513.3 L440.3,504 V499.5"/>


<text class="b" x="125" y="65" textLength="37" lengthAdjust="spacingAndGlyphs">47070B</text>
<text class="b" x="99" y="99" textLength="38" lengthAdjust="spacingAndGlyphs">47950D</text>
<text class="b" x="176" y="110" textLength="38" lengthAdjust="spacingAndGlyphs">47960A</text>
<text class="b" x="79" y="143" textLength="38" lengthAdjust="spacingAndGlyphs">47950F</text>
<use href="#kome" x="12" y="200"/><text class="n" x="21.5" y="208" style="font-size:10px">3</text>
<text class="b" x="27" y="208" textLength="38" lengthAdjust="spacingAndGlyphs">47997A</text>
<text class="b" x="156" y="222" textLength="38" lengthAdjust="spacingAndGlyphs">47955A</text>
<text class="b" x="31" y="270" textLength="38" lengthAdjust="spacingAndGlyphs">44551C</text>
<text class="b" x="197" y="277" textLength="37" lengthAdjust="spacingAndGlyphs">47962A</text>
<text class="b" x="217" y="295" textLength="37" lengthAdjust="spacingAndGlyphs">47965A</text>
<text class="n" x="222" y="305" textLength="27" lengthAdjust="spacingAndGlyphs">(NO. 1)</text>
<text class="b" x="39" y="447" textLength="38" lengthAdjust="spacingAndGlyphs">44571A</text>
<text class="b" x="392" y="25" textLength="37" lengthAdjust="spacingAndGlyphs">47210L</text>
<use href="#kome" x="306" y="45"/><text class="n" x="315.5" y="53" style="font-size:10px">1</text>
<text class="b" x="322" y="53" textLength="30" lengthAdjust="spacingAndGlyphs">47287</text>
<text class="n" x="322" y="63" textLength="27" lengthAdjust="spacingAndGlyphs">(NO. 2)</text>
<text class="b" x="465" y="64" textLength="31" lengthAdjust="spacingAndGlyphs">47201</text>
<use href="#kome" x="295" y="85"/><text class="n" x="304.5" y="93" style="font-size:10px">2</text>
<text class="b" x="311" y="93" textLength="30" lengthAdjust="spacingAndGlyphs">47287</text>
<text class="n" x="310" y="102.5" textLength="27" lengthAdjust="spacingAndGlyphs">(NO. 1)</text>
<text class="b" x="432" y="113" textLength="32" lengthAdjust="spacingAndGlyphs">47230</text>
<text class="b" x="510" y="145" textLength="31" lengthAdjust="spacingAndGlyphs">47202</text>
<text class="b" x="293" y="164" textLength="37" lengthAdjust="spacingAndGlyphs">47210U</text>
<text class="b" x="455" y="253" textLength="31" lengthAdjust="spacingAndGlyphs">47255</text>
<text class="b" x="379" y="265" textLength="38" lengthAdjust="spacingAndGlyphs">47255A</text>
<text class="b" x="307" y="281" textLength="31" lengthAdjust="spacingAndGlyphs">47255</text>
<text class="b" x="527" y="272" textLength="30" lengthAdjust="spacingAndGlyphs">47204</text>
<text class="b" x="607" y="241" textLength="38" lengthAdjust="spacingAndGlyphs">47210H</text>
<text class="b" x="593" y="319" textLength="31" lengthAdjust="spacingAndGlyphs">47214</text>
<text class="b" x="631" y="330" textLength="31" lengthAdjust="spacingAndGlyphs">47265</text>
<text class="b" x="529" y="319" textLength="31" lengthAdjust="spacingAndGlyphs">47217</text>
<text class="b" x="403" y="397" textLength="37" lengthAdjust="spacingAndGlyphs">44591A</text>
<text class="b" x="353" y="417" textLength="37" lengthAdjust="spacingAndGlyphs">44519A</text>
<text class="b" x="340" y="483" textLength="37" lengthAdjust="spacingAndGlyphs">47967A</text>
<text class="b" x="483" y="496" textLength="38" lengthAdjust="spacingAndGlyphs">47965A</text>
<text class="n" x="489" y="506" textLength="27" lengthAdjust="spacingAndGlyphs">(NO. 2)</text>
<text class="b" x="348" y="531" textLength="31" lengthAdjust="spacingAndGlyphs">44519</text>
<text class="b" x="703" y="118" textLength="31" lengthAdjust="spacingAndGlyphs">47264</text>
<text class="b" x="754" y="92" textLength="38" lengthAdjust="spacingAndGlyphs">44785C</text>
<text class="s" x="33" y="126" textLength="60" lengthAdjust="spacingAndGlyphs">90015–AY001</text>
<text class="s" x="212" y="361" textLength="74" lengthAdjust="spacingAndGlyphs">90015–AE001(2)</text>
<text class="s" x="156" y="405" textLength="60" lengthAdjust="spacingAndGlyphs">90464–00657</text>
<text class="s" x="499" y="92" textLength="60" lengthAdjust="spacingAndGlyphs">90149–40006</text>
<text class="s" x="686" y="19" textLength="74" lengthAdjust="spacingAndGlyphs">90179–08057(4)</text>
<text class="s" x="682" y="318" textLength="59" lengthAdjust="spacingAndGlyphs">90179–10065</text>
<text class="s" x="737" y="302" textLength="59" lengthAdjust="spacingAndGlyphs">90179–10065</text>
<text class="s" x="683" y="488" textLength="59" lengthAdjust="spacingAndGlyphs">90015–AB302</text>
<text class="s" x="699" y="503" textLength="60" lengthAdjust="spacingAndGlyphs">90015–AJ001</text>
<text class="s" x="666" y="517" textLength="60" lengthAdjust="spacingAndGlyphs">90015–AB302</text>
<text class="s" x="682" y="532" textLength="60" lengthAdjust="spacingAndGlyphs">90015–AJ001</text>
<text class="s" x="504" y="521" textLength="61" lengthAdjust="spacingAndGlyphs">90015–AS901</text>
<text class="n" x="640" y="375" textLength="26" lengthAdjust="spacingAndGlyphs" style="font-size:10.5px">MARK</text>
<text class="n" x="769" y="556" textLength="40" lengthAdjust="spacingAndGlyphs" style="font-size:11px;stroke:#000;stroke-width:0.25px">476240G</text>
<use href="#kome" x="25" y="503.7"/>
<text class="n" x="34.5" y="511.7" textLength="109.5" lengthAdjust="spacingAndGlyphs" style="font-size:9.3px">1 (0708-1011)ATM;(1011-</text>
<use href="#kome" x="25" y="513.6"/>
<text class="n" x="34.5" y="521.6" textLength="79.5" lengthAdjust="spacingAndGlyphs" style="font-size:9.3px">2 (0708-0712)ATM</text>
<use href="#kome" x="25" y="523.5"/>
<text class="n" x="34.5" y="531.5" textLength="79.5" lengthAdjust="spacingAndGlyphs" style="font-size:9.3px">3 (0708-0808)ATM</text>
<text class="n" x="161" y="512" style="font-size:9.3px">)</text>
</svg>
</body></html>
